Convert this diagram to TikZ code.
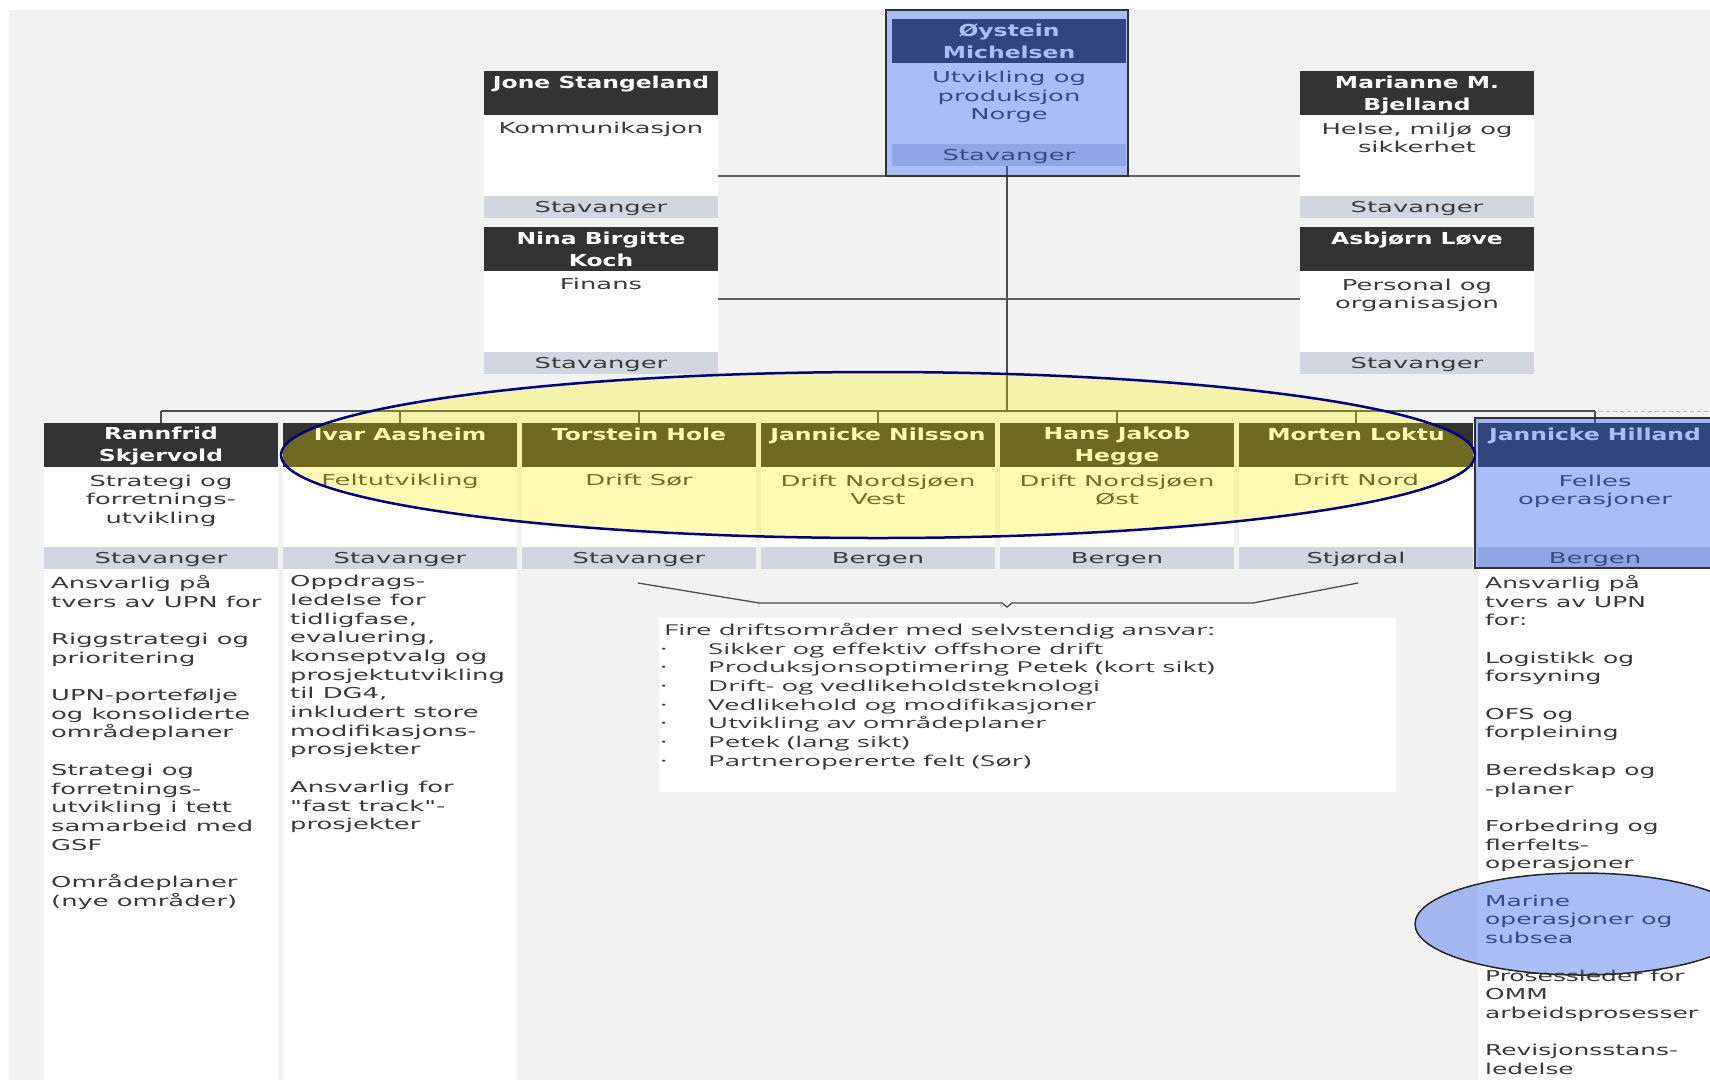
\documentclass[tikz,border=0pt]{standalone}
\usepackage{fontspec}
\usetikzlibrary{calc}
\newfontfamily\bodyf{DejaVu Sans}[FakeStretch=1.72]
\newfontfamily\bodyn{DejaVu Sans}[FakeStretch=1.66]
\newfontfamily\namef{DejaVu Sans Bold}[FakeStretch=1.42]
\newfontfamily\descf{Open Sans}[FakeStretch=1.84]
\definecolor{bgc}{HTML}{F2F2F2}
\definecolor{hdr}{HTML}{333333}
\definecolor{barc}{HTML}{D2D6E1}
\definecolor{txt}{HTML}{3A3A3A}
\definecolor{lin}{HTML}{4D4D4D}
\definecolor{ovl}{RGB}{51,97,236}
\definecolor{navyc}{HTML}{000080}
% #1 name, #2 x, #3 y, #4 person, #5 unit, #6 location, #7 body height,
% #8 extra shift of person text, #9 extra shift of unit text
\newcommand\orgbox[9]{%
  \node[hdrbox,anchor=north west] (#1-h) at (#2,#3) {};
  \node[bodybox,minimum height=#7pt,anchor=north west] (#1-b) at (#1-h.south west) {};
  \node[barbox,anchor=north west] (#1-l) at (#1-b.south west) {};
  \node[nametxt] (#1-n) at ([yshift=-1.6pt-#8pt]#1-h.north) {#4};
  \node[bodytxt] (#1-t) at ([yshift=-4.8pt-#9pt]#1-b.north) {#5};
  \node[bodytxt] (#1-s) at ([yshift=-2.8pt]#1-l.north) {#6};
}
\begin{document}
\begin{tikzpicture}[x=1pt,y=-1pt,
  hdrbox/.style={fill=hdr,inner sep=0pt,outer sep=0pt,minimum width=234pt,minimum height=44pt},
  bodybox/.style={fill=white,inner sep=0pt,outer sep=0pt,minimum width=234pt},
  barbox/.style={fill=barc,inner sep=0pt,outer sep=0pt,minimum width=234pt,minimum height=22pt},
  nametxt/.style={anchor=north,inner sep=0pt,align=center,text=white,font=\namef\fontsize{16.5}{22}\selectfont,execute at begin node=\strut},
  bodytxt/.style={anchor=north,inner sep=0pt,align=center,text=txt,font=\bodyf\fontsize{15}{18.8}\selectfont,execute at begin node=\strut},
  listtxt/.style={anchor=north west,inner sep=0pt,align=left,text=txt,font=\bodyf\fontsize{15}{18.7}\selectfont,execute at begin node=\strut},
  listtxtn/.style={listtxt,font=\bodyn\fontsize{15}{18.7}\selectfont},
  desctxt/.style={anchor=north west,inner sep=0pt,align=left,text=txt,font=\descf\fontsize{15}{18.7}\selectfont,execute at begin node=\strut},
  conn/.style={draw=lin,line width=1.5pt},
  hconn/.style={draw=lin!90,line width=2pt},
  colbg/.style={fill=white,inner sep=0pt,outer sep=0pt,minimum width=234pt,minimum height=511pt}
]
\useasboundingbox (0,0) rectangle (1710,1080);
\fill[white] (0,0) rectangle (1710,1080);
\fill[bgc] (9,10) rectangle (1710,1080);

% white list columns
\node[colbg,anchor=north west] (c1list) at (44,569) {};
\node[colbg,anchor=north west] (c2list) at (283,569) {};
\node[colbg,anchor=north west] (c7list) at (1478,569) {};

% top box background
\node[fill=white,inner sep=0pt,minimum width=242pt,minimum height=166pt,anchor=north west] (oyst-bg) at (886,10) {};

\coordinate (bus) at (1007,411);
\coordinate (busend) at (1710,411);

\orgbox{oyst}{892}{19}{Øystein\\Michelsen}{Utvikling og\\produksjon\\Norge}{Stavanger}{81}{2.8}{2.8}
\orgbox{jone}{484}{71}{Jone Stangeland}{Kommunikasjon}{Stavanger}{81}{0}{0}
\orgbox{mari}{1300}{71}{Marianne M.\\Bjelland}{Helse, miljø og\\sikkerhet}{Stavanger}{81}{3}{2.6}
\orgbox{nina}{484}{227}{Nina Birgitte\\Koch}{Finans}{Stavanger}{81}{3}{0}
\orgbox{asb}{1300}{227}{Asbjørn Løve}{Personal og\\organisasjon}{Stavanger}{81}{0}{2.6}

\orgbox{c1}{44}{423}{Rannfrid\\Skjervold}{Strategi og\\forretnings-\\utvikling}{Stavanger}{80}{2.6}{2.6}
\orgbox{c2}{283}{423}{Ivar Aasheim}{Feltutvikling}{Stavanger}{80}{0}{0}
\orgbox{c3}{522}{423}{Torstein Hole}{Drift Sør}{Stavanger}{80}{0}{0}
\orgbox{c4}{761}{423}{Jannicke Nilsson}{Drift Nordsjøen\\Vest}{Bergen}{80}{0}{2.6}
\orgbox{c5}{1000}{423}{Hans Jakob\\Hegge}{Drift Nordsjøen\\Øst}{Bergen}{80}{2.6}{2.6}
\orgbox{c6}{1239}{423}{Morten Loktu}{Drift Nord}{Stjørdal}{80}{0}{0}
\orgbox{c7}{1478}{423}{Jannicke Hilland}{Felles\\operasjoner}{Bergen}{80}{0}{2.6}

% connectors
\draw[hconn] ([yshift=20pt]jone-b.south east) -- ([yshift=20pt]mari-b.south west);
\draw[hconn] ([yshift=53pt]nina-b.south east) -- ([yshift=53pt]asb-b.south west);
\draw[conn] (oyst-l.south -| bus) -- (bus);
\draw[conn] (c1-h.north |- bus) -- (c7-h.north |- bus);
\foreach \c in {c1,c2,c3,c4,c5,c6,c7}{
  \draw[conn] (\c-h.north |- bus) -- (\c-h.north);
}
\draw[draw=gray!55,line width=1pt,dash pattern=on 4pt off 3pt] ([xshift=4pt]c7-h.north |- bus) -- (busend);

% list texts
\node[listtxt] (c1-txt) at (51,575) {Ansvarlig på\\tvers av UPN for\\[18.7pt]Riggstrategi og\\prioritering\\[18.7pt]UPN-portefølje\\og konsoliderte\\områdeplaner\\[18.7pt]Strategi og\\forretnings-\\utvikling i tett\\samarbeid med\\GSF\\[18.7pt]Områdeplaner\\(nye områder)};
\node[listtxt] (c2-txt) at (290,575) {Oppdrags-\\ledelse for\\tidligfase,\\evaluering,\\konseptvalg og\\prosjektutvikling\\til DG4,\\inkludert store\\modifikasjons-\\prosjekter\\[18.7pt]Ansvarlig for\\"fast track"-\\prosjekter};
\node[listtxtn] (c7-txt) at (1485,575) {Ansvarlig på\\tvers av UPN\\for:\\[18.7pt]Logistikk og\\forsyning\\[18.7pt]OFS og\\forpleining\\[18.7pt]Beredskap og\\-planer\\[18.7pt]Forbedring og\\flerfelts-\\operasjoner\\[18.7pt]Marine\\operasjoner og\\subsea\\[18.7pt]Prosessleder for\\OMM\\arbeidsprosesser\\[18.7pt]Revisjonsstans-\\ledelse};

% description box
\node[fill=white,inner sep=0pt,minimum width=737pt,minimum height=174pt,anchor=north west] (desc) at (659,618) {};
\node[desctxt] (desc-t) at (660,623) {\hspace*{4pt}Fire driftsområder med selvstendig ansvar:\\
\makebox[48pt][l]{·}Sikker og effektiv offshore drift\\
\makebox[48pt][l]{·}Produksjonsoptimering Petek (kort sikt)\\
\makebox[48pt][l]{·}Drift- og vedlikeholdsteknologi\\
\makebox[48pt][l]{·}Vedlikehold og modifikasjoner\\
\makebox[48pt][l]{·}Utvikling av områdeplaner\\
\makebox[48pt][l]{·}Petek (lang sikt)\\
\makebox[48pt][l]{·}Partneropererte felt (Sør)};

% brace connector
\coordinate (br-l) at (638,583);
\coordinate (br-r) at (1358,583);
\coordinate (br-tip) at (1007,607);
\draw[draw=lin,line width=1.3pt] (br-l) -- (759,603) -- (1002,603) -- (br-tip) -- (1012,603) -- (1253,603) -- (br-r);

% overlays
\draw[draw=hdr,line width=2pt,fill=ovl,fill opacity=0.41] (886,10) rectangle (1128,176);
\draw[draw=hdr,line width=2pt,fill=ovl,fill opacity=0.41] (1475,418) rectangle (1716,568);
\draw[draw=navyc,line width=2.5pt,fill=yellow,fill opacity=0.29] (878,455) ellipse [x radius=597, y radius=83];
\draw[draw=black!85,line width=1.5pt,fill=ovl,fill opacity=0.41] (1582,924) ellipse [x radius=167, y radius=51];
\end{tikzpicture}
\end{document}
